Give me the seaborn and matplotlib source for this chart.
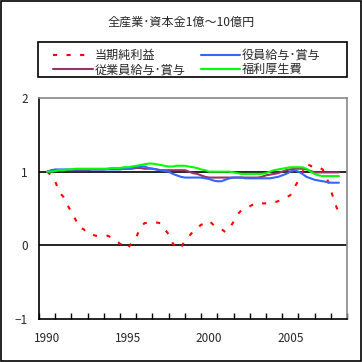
import numpy as np
import pandas as pd
import matplotlib
matplotlib.use('Agg')
import matplotlib.pyplot as plt
from matplotlib.ticker import MultipleLocator, FixedLocator
from matplotlib.patches import Rectangle
import seaborn as sns

# ── Data (quarterly index, 1990 = 1.0) ─────────────────────────────────────────
years = np.arange(1990, 2008.01, 0.25)

net_profit = [1.00, 0.95, 0.87, 0.72, 0.66, 0.55, 0.45, 0.35,
              0.24, 0.22, 0.16, 0.15, 0.13, 0.13, 0.13, 0.13,
              0.10, 0.07, 0.02, 0.01, -0.04, 0.05, 0.11, 0.24,
              0.30, 0.31, 0.31, 0.31, 0.30, 0.22, 0.15, 0.03,
              -0.05, -0.03, 0.06, 0.12, 0.19, 0.23, 0.28, 0.29,
              0.33, 0.28, 0.24, 0.22, 0.18, 0.23, 0.32, 0.42,
              0.48, 0.50, 0.53, 0.56, 0.58, 0.57, 0.57, 0.57,
              0.58, 0.60, 0.63, 0.65, 0.68, 0.78, 0.88, 0.99,
              1.11, 1.08, 1.05, 1.06, 1.03, 0.92, 0.75, 0.58,
              0.43]

officer_pay = [1.00, 1.02, 1.03, 1.03, 1.03, 1.03, 1.03, 1.03,
               1.03, 1.03, 1.03, 1.03, 1.03, 1.03, 1.03, 1.03,
               1.03, 1.03, 1.03, 1.04, 1.04, 1.05, 1.06, 1.07,
               1.07, 1.05, 1.04, 1.03, 1.02, 1.01, 1.00, 0.97,
               0.95, 0.93, 0.92, 0.92, 0.92, 0.92, 0.92, 0.91,
               0.90, 0.88, 0.87, 0.87, 0.89, 0.91, 0.92, 0.92,
               0.92, 0.91, 0.91, 0.91, 0.91, 0.91, 0.91, 0.91,
               0.92, 0.93, 0.95, 0.97, 1.00, 1.02, 1.00, 0.97,
               0.93, 0.91, 0.89, 0.88, 0.87, 0.86, 0.85, 0.85,
               0.85]

employee_pay = [1.00, 1.01, 1.02, 1.02, 1.02, 1.02, 1.02, 1.02,
                1.02, 1.02, 1.02, 1.03, 1.03, 1.03, 1.03, 1.04,
                1.04, 1.04, 1.04, 1.04, 1.04, 1.04, 1.05, 1.05,
                1.04, 1.04, 1.04, 1.03, 1.02, 1.02, 1.02, 1.02,
                1.02, 1.02, 1.02, 1.00, 0.98, 0.97, 0.95, 0.93,
                0.92, 0.92, 0.92, 0.92, 0.92, 0.92, 0.92, 0.92,
                0.92, 0.92, 0.92, 0.92, 0.92, 0.93, 0.95, 0.96,
                0.97, 0.98, 1.00, 1.02, 1.03, 1.04, 1.04, 1.04,
                1.03, 1.01, 0.99, 0.99, 0.99, 0.99, 0.99, 0.99,
                0.99]

welfare = [1.00, 1.00, 1.01, 1.02, 1.02, 1.03, 1.03, 1.04,
           1.04, 1.04, 1.04, 1.04, 1.04, 1.04, 1.04, 1.04,
           1.05, 1.05, 1.05, 1.06, 1.06, 1.07, 1.08, 1.09,
           1.10, 1.11, 1.11, 1.10, 1.09, 1.08, 1.07, 1.07,
           1.08, 1.08, 1.08, 1.07, 1.06, 1.05, 1.03, 1.02,
           1.00, 1.00, 1.00, 1.00, 1.00, 1.00, 0.99, 0.98,
           0.97, 0.97, 0.97, 0.97, 0.97, 0.97, 0.98, 1.00,
           1.02, 1.03, 1.04, 1.05, 1.06, 1.06, 1.06, 1.06,
           1.04, 1.00, 0.97, 0.95, 0.94, 0.94, 0.94, 0.94,
           0.94]

labels = ['当期純利益', '従業員給与･賞与', '役員給与･賞与', '福利厚生費']
colors = ['#FF0000', '#993366', '#3366FF', '#00FF00']
title = '全産業･資本金1億～10億円'
year_ticks = [1990, 1995, 2000, 2005]
y_ticks = [-1, 0, 1, 2]

# ── Style ──────────────────────────────────────────────────────────────────────
sns.set_style('white')
plt.rcParams['font.family'] = ['Noto Sans CJK JP', 'DejaVu Sans']

fig = plt.figure(figsize=(3.62, 3.62), dpi=100)
fig.patches.append(Rectangle((0.002, 0.002), 0.994, 0.994, transform=fig.transFigure,
                             fill=False, edgecolor='black', linewidth=1.2))
ax = fig.add_axes([39/362, 1 - 319/362, 308/362, 221/362])

series = [net_profit, employee_pay, officer_pay, welfare]
for vals, lab, col in zip(series, labels, colors):
    df = pd.DataFrame({'year': years, 'value': vals})
    if lab == '当期純利益':
        sns.lineplot(data=df, x='year', y='value', ax=ax, color=col, lw=1.5,
                     label=lab, linestyle=(0, (2, 4.5)))
    else:
        sns.lineplot(data=df, x='year', y='value', ax=ax, color=col, lw=1.5, label=lab)

ax.axhline(0, color='black', lw=1.2, zorder=1)
ax.axhline(1, color='black', lw=1.2, zorder=1)

ax.set_xlim(1989.5, 2008.5)
ax.set_ylim(-1, 2)
ax.xaxis.set_major_locator(FixedLocator(year_ticks))
ax.xaxis.set_minor_locator(MultipleLocator(1, offset=0.5))
ax.set_yticks(y_ticks)
ax.set_yticklabels(['−1' if t < 0 else str(t) for t in y_ticks])
ax.tick_params(axis='x', which='major', length=0, pad=9, labelsize=8.5)
ax.tick_params(axis='x', which='minor', direction='in', length=4, width=1, color='black',
               bottom=True)
ax.tick_params(axis='y', length=0, pad=8, labelsize=8.5)
ax.set_xlabel('')
ax.set_ylabel('')

for side in ['left', 'bottom']:
    ax.spines[side].set_color('black')
    ax.spines[side].set_linewidth(1.2)
for side in ['top', 'right']:
    ax.spines[side].set_color('#888888')
    ax.spines[side].set_linewidth(1.2)

# legend box drawn separately, entries spread inside it
fig.patches.append(Rectangle((38/362, 1 - 77/362), 309/362, 35/362, transform=fig.transFigure,
                             fill=False, edgecolor='black', linewidth=1.2))
handles, labs = ax.get_legend_handles_labels()
leg = fig.legend(handles, labs, ncol=2, loc='center',
                 bbox_to_anchor=(47/362, 1 - 80/362, 280/362, 35/362), mode='expand',
                 frameon=False, fontsize=8.7,
                 handlelength=3.3, handletextpad=0.15, borderpad=0.0,
                 labelspacing=0.1, columnspacing=1.0)
ax.get_legend().remove()

fig.text(0.5, 1 - 22/362, title, ha='center', va='center', fontsize=8.7)

fig.savefig('out.png', dpi=100)
plt.close(fig)
